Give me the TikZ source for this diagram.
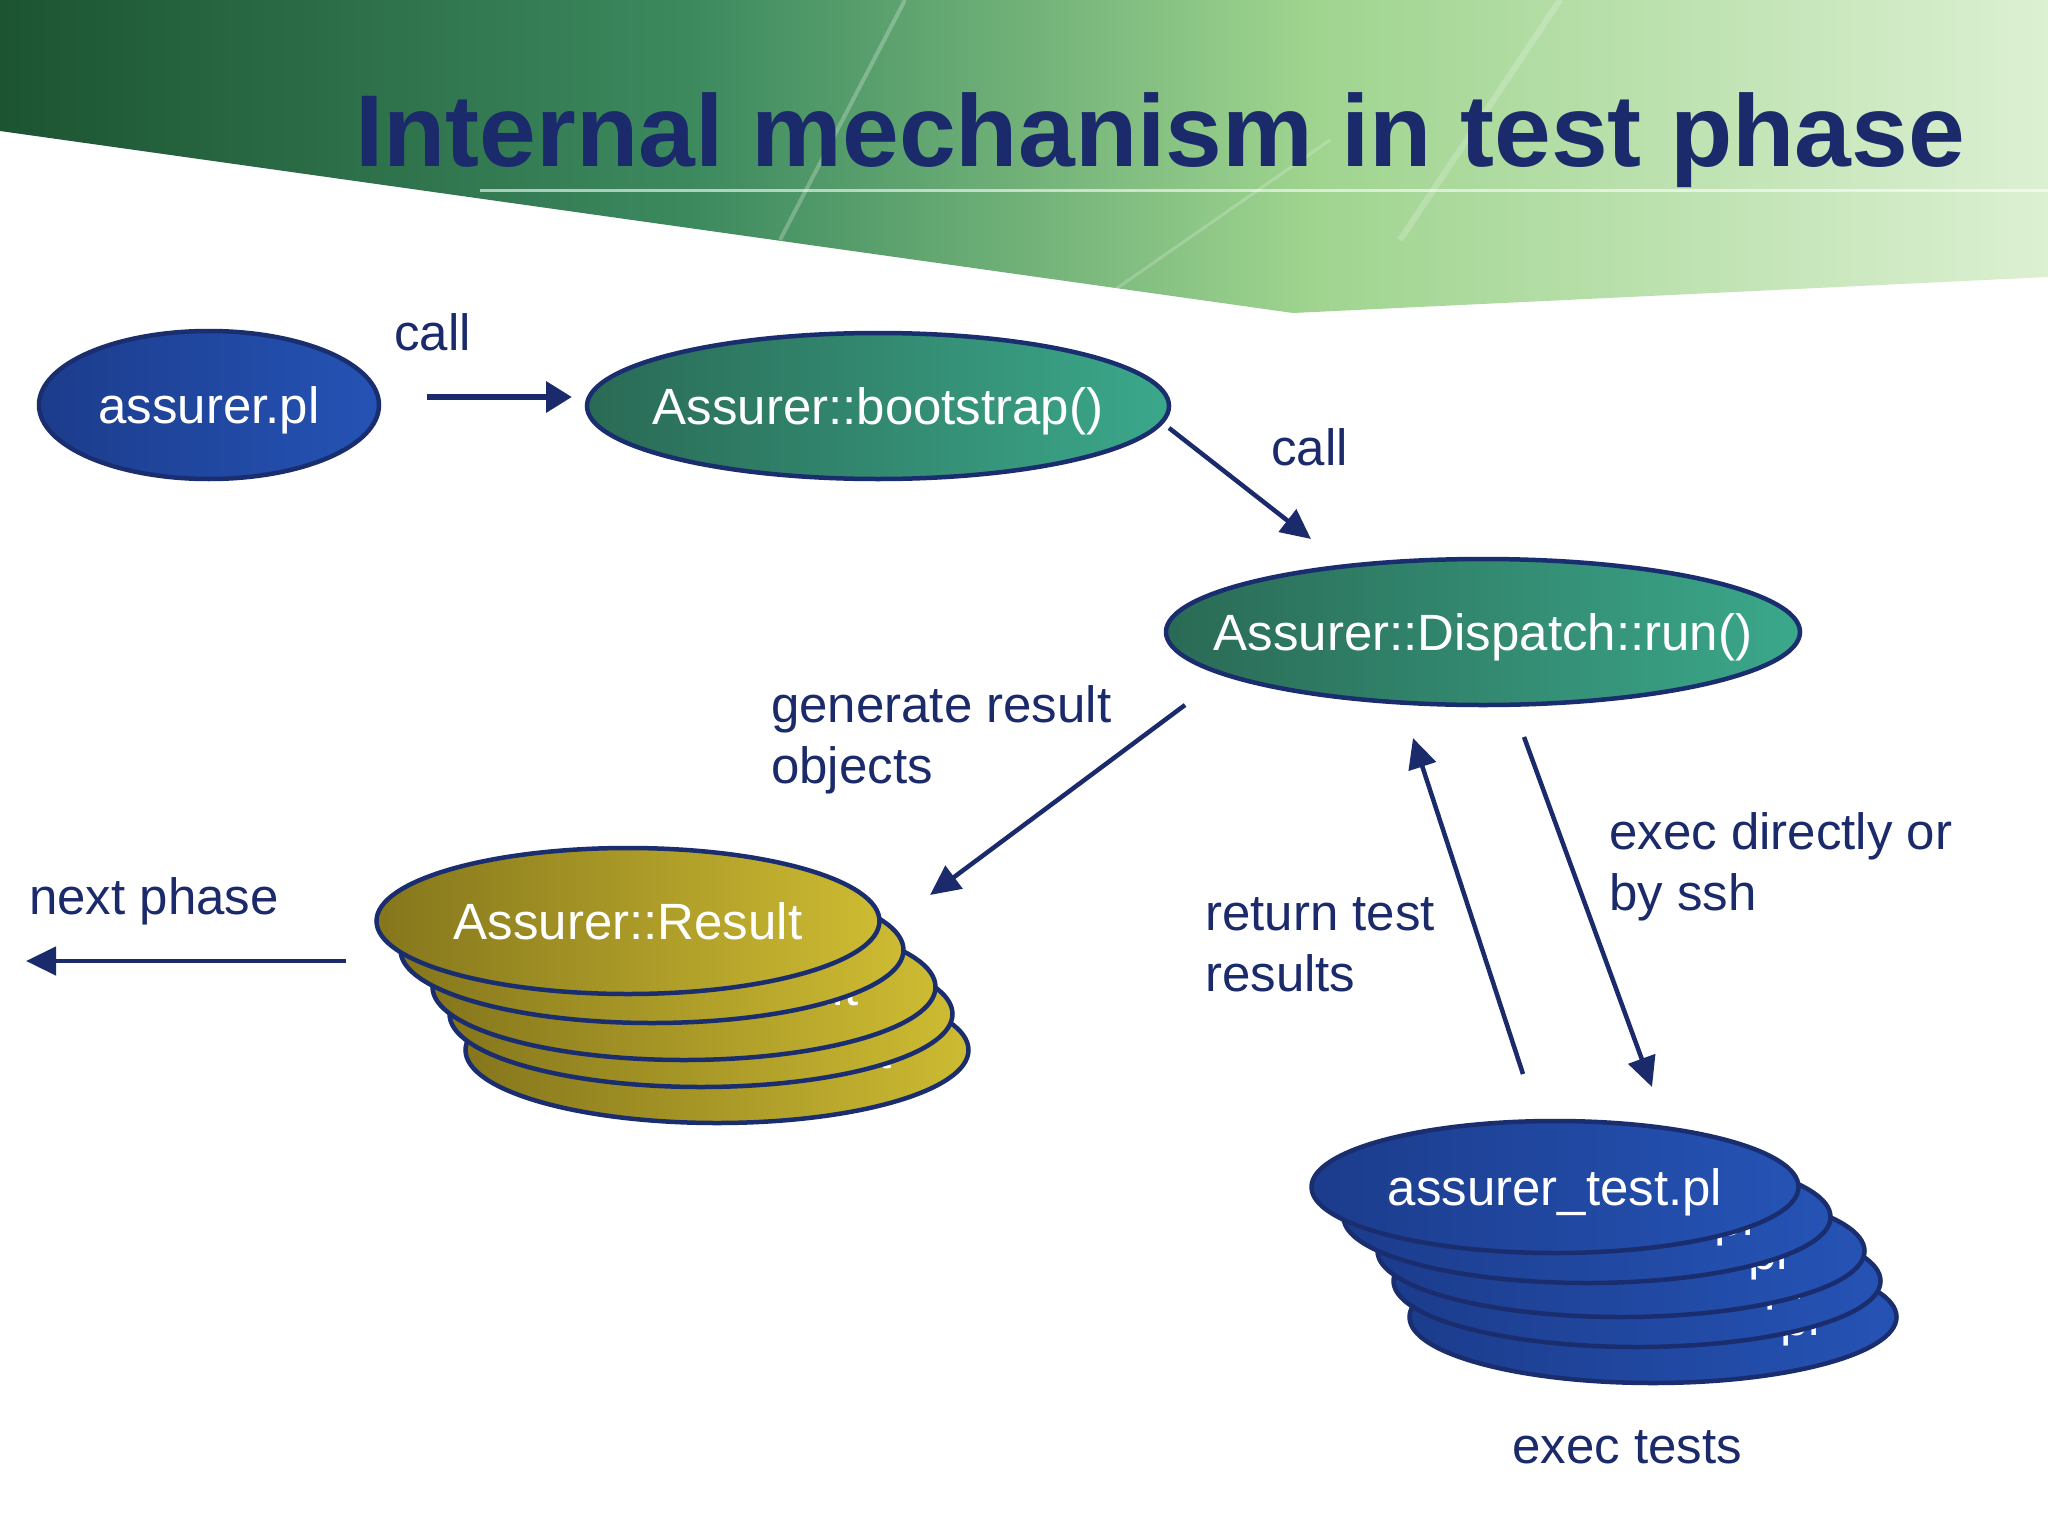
\documentclass[tikz,border=0pt]{standalone}
\usepackage{fontspec}
\setmainfont{Liberation Sans}
\usetikzlibrary{shapes.geometric,arrows.meta}
\definecolor{navy}{HTML}{1B2A6B}
\definecolor{edge}{HTML}{1A2D6E}
\definecolor{blueL}{HTML}{1C3C8C}
\definecolor{blueR}{HTML}{2553B5}
\definecolor{tealL}{HTML}{2A6A55}
\definecolor{tealR}{HTML}{3BA88B}
\definecolor{oliveL}{HTML}{85761C}
\definecolor{oliveR}{HTML}{CDBB32}
\definecolor{gA}{HTML}{1C5432}
\definecolor{gB}{HTML}{3D8A5F}
\definecolor{gC}{HTML}{9FD48F}
\definecolor{gD}{HTML}{DCF0D2}
\pgfdeclarehorizontalshading{hdr}{100bp}{color(0bp)=(gA); color(25bp)=(gA);
  color(42bp)=(gB); color(57bp)=(gC); color(75bp)=(gD); color(100bp)=(gD)}
\newcommand{\ctext}[1]{\makebox[0pt]{#1}}
\begin{document}
\begin{tikzpicture}[x=1pt,y=-1pt,
  lbl/.style={font=\fontsize{51}{61}\selectfont, text=navy, align=left, inner sep=0pt},
  oval/.style={ellipse, draw=edge, line width=4.5pt, inner sep=0pt, text=white,
    text height=37pt, text depth=0pt, font=\fontsize{51}{61}\selectfont},
  bluefill/.style={oval, left color=blueL, right color=blueR},
  tealfill/.style={oval, left color=tealL, right color=tealR},
  olivefill/.style={oval, left color=oliveL, right color=oliveR},
  resbox/.style={olivefill, minimum width=503pt, minimum height=146pt},
  testbox/.style={bluefill, minimum width=487pt, minimum height=132pt},
  arr/.style={draw=navy, line width=4.5pt, -{Triangle[length=30pt,width=28pt]}},
  arrthick/.style={draw=navy, line width=6.5pt, -{Triangle[length=26pt,width=30pt]}}
]
\useasboundingbox (0,0) rectangle (2048,1536);
\fill[white] (0,0) rectangle (2048,1536);

% header band
\shade[shading=hdr]
  (0,0) -- (2048,0) -- (2048,277) -- (1293,313) -- (0,131) -- cycle;
\draw[white, opacity=0.6, line width=3pt] (480,190) -- (2048,190);
\draw[white, opacity=0.25, line width=4pt] (905,0) -- (780,240);
\draw[white, opacity=0.2, line width=3pt] (1330,140) -- (1100,300);
\draw[white, opacity=0.2, line width=6pt] (1560,0) -- (1400,240);

% title
\node[anchor=base west, inner sep=0pt, text=navy,
  font=\fontsize{102}{110}\selectfont\bfseries] (title) at (355,166)
  {Internal mechanism in test phase};

% main nodes
\node[bluefill, minimum width=340pt, minimum height=148pt] (pl) at (209,405) {\ctext{assurer.pl}};
\node[tealfill, minimum width=582pt, minimum height=146pt] (boot) at (878,406) {\ctext{Assurer::bootstrap()}};
\node[tealfill, minimum width=634pt, minimum height=146pt] (disp) at (1483,632) {\ctext{Assurer::Dispatch::run()}};

% result stack (bottom to top)
\node[resbox] (r5) at (717,1050) {\ctext{Assurer::Result}};
\node[resbox] (r4) at (701,1014) {\ctext{Assurer::Result}};
\node[resbox] (r3) at (684,987) {\ctext{Assurer::Result}};
\node[resbox] (r2) at (652,950) {\ctext{Assurer::Result}};
\node[resbox] (r1) at (628,921) {\ctext{Assurer::Result}};

% test stack (bottom to top)
\node[testbox] (t5) at (1653,1317) {\ctext{assurer\_test.pl}};
\node[testbox] (t4) at (1637,1281) {\ctext{assurer\_test.pl}};
\node[testbox] (t3) at (1621,1251) {\ctext{assurer\_test.pl}};
\node[testbox] (t2) at (1587,1217) {\ctext{assurer\_test.pl}};
\node[testbox] (t1) at (1555,1187) {\ctext{assurer\_test.pl}};

% labels
\node[lbl, anchor=base west] (call1) at (394,350) {call};
\node[lbl, anchor=base west] (call2) at (1271,465) {call};
\node[lbl, anchor=north west] (gen) at (771,685) {generate result\\objects};
\node[lbl, anchor=base west] (next) at (29,914) {next phase};
\node[lbl, anchor=north west] (ret) at (1205,897) {return test\\results};
\node[lbl, anchor=north west] (exd) at (1609,812) {exec directly or\\by ssh};
\node[lbl, anchor=base west] (ext) at (1512,1463) {exec tests};

% arrow end points
\coordinate (a1s) at (427,397);  \coordinate (a1e) at (572,397);
\coordinate (a2s) at (1169,428); \coordinate (a2e) at (1311,539);
\coordinate (a3s) at (1185,705); \coordinate (a3e) at (930,895);
\coordinate (a4s) at (346,961);  \coordinate (a4e) at (26,961);
\coordinate (a5s) at (1523,1074); \coordinate (a5e) at (1413,738);
\coordinate (a6s) at (1524,737); \coordinate (a6e) at (1652,1087);

\draw[arrthick] (a1s) -- (a1e);
\draw[arr] (a2s) -- (a2e);
\draw[arr] (a3s) -- (a3e);
\draw[arr] (a4s) -- (a4e);
\draw[arr] (a5s) -- (a5e);
\draw[arr] (a6s) -- (a6e);
\end{tikzpicture}
\end{document}
